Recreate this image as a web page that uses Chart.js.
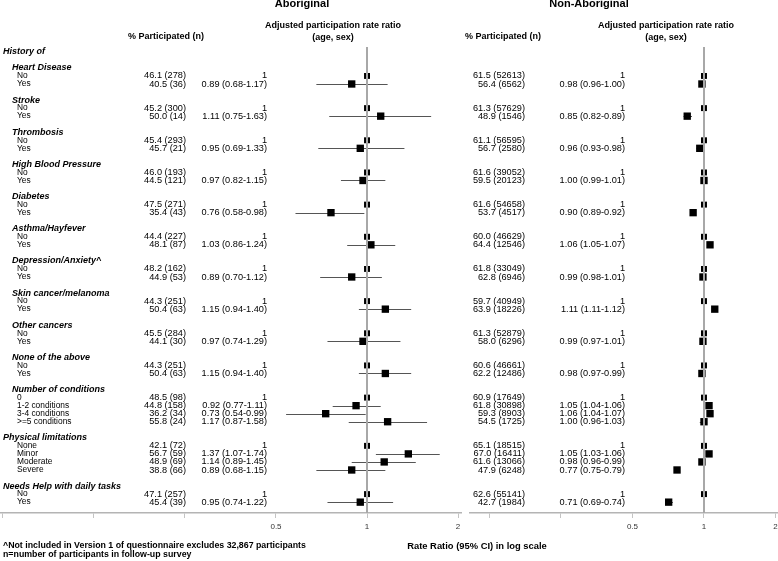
<!DOCTYPE html>
<html>
<head>
<meta charset="utf-8">
<script src="https://cdn.jsdelivr.net/npm/chart.js@4.4.1/dist/chart.umd.min.js"></script>
<style>
  html, body { margin: 0; padding: 0; background: #fff; }
  #wrap { position: relative; width: 778px; height: 561px; }
</style>
</head>
<body>
<div id="wrap"><canvas id="forest" width="778" height="561"></canvas></div>
<script>
// ============================================
// Data
// ============================================

const groupNames = [
    'Heart Disease', 'Stroke', 'Thrombosis', 'High Blood Pressure', 'Diabetes',
    'Asthma/Hayfever', 'Depression/Anxiety^', 'Skin cancer/melanoma', 'Other cancers',
    'None of the above', 'Number of conditions', 'Physical limitations',
    'Needs Help with daily tasks'
];

const groupItems = [
    ['No', 'Yes'], ['No', 'Yes'], ['No', 'Yes'], ['No', 'Yes'], ['No', 'Yes'],
    ['No', 'Yes'], ['No', 'Yes'], ['No', 'Yes'], ['No', 'Yes'], ['No', 'Yes'],
    ['0', '1-2 conditions', '3-4 conditions', '>=5 conditions'],
    ['None', 'Minor', 'Moderate', 'Severe'],
    ['No', 'Yes']
];

// Aboriginal
const abPct = [46.1, 40.5, 45.2, 50.0, 45.4, 45.7, 46.0, 44.5, 47.5, 35.4, 44.4, 48.1, 48.2, 44.9,
    44.3, 50.4, 45.5, 44.1, 44.3, 50.4, 48.5, 44.8, 36.2, 55.8, 42.1, 56.7, 48.9, 38.8, 47.1, 45.4];
const abN = [278, 36, 300, 14, 293, 21, 193, 121, 271, 43, 227, 87, 162, 53,
    251, 63, 284, 30, 251, 63, 98, 158, 34, 24, 72, 59, 69, 66, 257, 39];
const abRR = [1, 0.89, 1, 1.11, 1, 0.95, 1, 0.97, 1, 0.76, 1, 1.03, 1, 0.89,
    1, 1.15, 1, 0.97, 1, 1.15, 1, 0.92, 0.73, 1.17, 1, 1.37, 1.14, 0.89, 1, 0.95];
const abLo = [null, 0.68, null, 0.75, null, 0.69, null, 0.82, null, 0.58, null, 0.86, null, 0.70,
    null, 0.94, null, 0.74, null, 0.94, null, 0.77, 0.54, 0.87, null, 1.07, 0.89, 0.68, null, 0.74];
const abHi = [null, 1.17, null, 1.63, null, 1.33, null, 1.15, null, 0.98, null, 1.24, null, 1.12,
    null, 1.40, null, 1.29, null, 1.40, null, 1.11, 0.99, 1.58, null, 1.74, 1.45, 1.15, null, 1.22];

// Non-Aboriginal
const nonPct = [61.5, 56.4, 61.3, 48.9, 61.1, 56.7, 61.6, 59.5, 61.6, 53.7, 60.0, 64.4, 61.8, 62.8,
    59.7, 63.9, 61.3, 58.0, 60.6, 62.2, 60.9, 61.8, 59.3, 54.5, 65.1, 67.0, 61.6, 47.9, 62.6, 42.7];
const nonN = [52613, 6562, 57629, 1546, 56595, 2580, 39052, 20123, 54658, 4517, 46629, 12546, 33049, 6946,
    40949, 18226, 52879, 6296, 46661, 12486, 17649, 30898, 8903, 1725, 18515, 16411, 13066, 6248, 55141, 1984];
const nonRR = [1, 0.98, 1, 0.85, 1, 0.96, 1, 1.00, 1, 0.90, 1, 1.06, 1, 0.99,
    1, 1.11, 1, 0.99, 1, 0.98, 1, 1.05, 1.06, 1.00, 1, 1.05, 0.98, 0.77, 1, 0.71];
const nonLo = [null, 0.96, null, 0.82, null, 0.93, null, 0.99, null, 0.89, null, 1.05, null, 0.98,
    null, 1.11, null, 0.97, null, 0.97, null, 1.04, 1.04, 0.96, null, 1.03, 0.96, 0.75, null, 0.69];
const nonHi = [null, 1.00, null, 0.89, null, 0.98, null, 1.01, null, 0.92, null, 1.07, null, 1.01,
    null, 1.12, null, 1.01, null, 0.99, null, 1.06, 1.07, 1.03, null, 1.06, 0.99, 0.79, null, 0.74];

const tickValues = [0.0625, 0.125, 0.25, 0.5, 1, 2];
const tickLabels = ['', '', '', '0.5', '1', '2'];

// ============================================
// Row layout (one row per text line)
// ============================================

const rows = [{ text: 'History of', kind: 'top' }, { text: '', kind: 'blank' }];
const itemRow = [];
groupNames.forEach((name, gi) => {
    rows.push({ text: name, kind: gi >= 11 ? 'top' : 'head' });
    groupItems[gi].forEach(label => {
        itemRow.push(rows.length);
        rows.push({ text: label, kind: 'item' });
    });
    if (gi < groupNames.length - 1) rows.push({ text: '', kind: 'blank' });
});

const FONT = '"Liberation Sans", Arial, sans-serif';

const panels = [
    {
        axis: 'xAb', title: 'Aboriginal', titleX: 302,
        pct: abPct, n: abN, rr: abRR, lo: abLo, hi: abHi,
        pctRight: 186, pctHeadX: 166, rrRight: 267, rrHeadX: 333
    },
    {
        axis: 'xNon', title: 'Non-Aboriginal', titleX: 589,
        pct: nonPct, n: nonN, rr: nonRR, lo: nonLo, hi: nonHi,
        pctRight: 525, pctHeadX: 503, rrRight: 625, rrHeadX: 666
    }
];

function markerData(p) {
    return p.rr.map((v, i) => ({ x: v, y: itemRow[i] }));
}

function markerRadius(p) {
    return p.lo.map(v => (v === null ? 4.2 : 5.2));
}

function rrText(p, i) {
    if (p.lo[i] === null) return '1';
    return p.rr[i].toFixed(2) + ' (' + p.lo[i].toFixed(2) + '-' + p.hi[i].toFixed(2) + ')';
}

// ============================================
// Plugins
// ============================================

const ciWhiskers = {
    id: 'ciWhiskers',
    beforeDatasetsDraw(chart) {
        const ctx = chart.ctx;
        const y = chart.scales.y;
        ctx.save();
        ctx.strokeStyle = '#555';
        ctx.lineWidth = 1;
        panels.forEach(p => {
            const x = chart.scales[p.axis];
            p.lo.forEach((lo, i) => {
                if (lo === null) return;
                const py = Math.round(y.getPixelForValue(itemRow[i])) + 0.5;
                ctx.beginPath();
                ctx.moveTo(x.getPixelForValue(lo), py);
                ctx.lineTo(x.getPixelForValue(p.hi[i]), py);
                ctx.stroke();
            });
        });
        ctx.restore();
    },
    afterDatasetsDraw(chart) {
        // null-effect line at rate ratio 1
        const ctx = chart.ctx;
        const area = chart.chartArea;
        ctx.save();
        ctx.strokeStyle = '#a8a8a8';
        ctx.lineWidth = 2;
        panels.forEach(p => {
            const px = Math.round(chart.scales[p.axis].getPixelForValue(1));
            ctx.beginPath();
            ctx.moveTo(px, area.top);
            ctx.lineTo(px, area.bottom);
            ctx.stroke();
        });
        ctx.restore();
    }
};

const textColumns = {
    id: 'textColumns',
    afterDraw(chart) {
        const ctx = chart.ctx;
        const y = chart.scales.y;
        ctx.save();
        ctx.fillStyle = '#000';
        ctx.textBaseline = 'middle';

        // row labels
        rows.forEach((r, i) => {
            if (r.kind === 'blank') return;
            const py = y.getPixelForValue(i);
            ctx.textAlign = 'left';
            if (r.kind === 'item') {
                ctx.font = '8.4px ' + FONT;
                ctx.fillText(r.text, 17, py);
            } else {
                ctx.font = 'italic bold 9px ' + FONT;
                ctx.fillText(r.text, r.kind === 'top' ? 3 : 12, py);
            }
        });

        panels.forEach(p => {
            // panel title and column headers
            ctx.textAlign = 'center';
            ctx.textBaseline = 'alphabetic';
            ctx.font = 'bold 11px ' + FONT;
            ctx.fillText(p.title, p.titleX, 7);
            ctx.font = 'bold 9px ' + FONT;
            ctx.fillText('% Participated (n)', p.pctHeadX, 39);
            ctx.fillText('Adjusted participation rate ratio', p.rrHeadX, 28);
            ctx.fillText('(age, sex)', p.rrHeadX, 39.5);

            // values
            ctx.textBaseline = 'middle';
            ctx.textAlign = 'right';
            ctx.font = '9.2px ' + FONT;
            p.pct.forEach((v, i) => {
                const py = y.getPixelForValue(itemRow[i]);
                ctx.fillText(v.toFixed(1) + ' (' + p.n[i] + ')', p.pctRight, py);
                ctx.fillText(rrText(p, i), p.rrRight, py);
            });
        });

        // footnotes and axis caption
        ctx.textAlign = 'left';
        ctx.font = 'bold 8.8px ' + FONT;
        ctx.fillText('^Not included in Version 1 of questionnaire excludes 32,867 participants', 3, 546);
        ctx.fillText('n=number of participants in follow-up survey', 3, 555);
        ctx.font = 'bold 9.4px ' + FONT;
        ctx.textAlign = 'center';
        ctx.fillText('Rate Ratio (95% CI) in log scale', 477, 546);
        ctx.restore();
    }
};

// ============================================
// Chart
// ============================================

function fitAxis(scale) {
    scale.paddingLeft = 0;
    scale.paddingRight = 0;
    scale.height = 48;
}

function logAxis(min, max, weight) {
    return {
        type: 'logarithmic',
        position: 'bottom',
        stack: 'rr',
        stackWeight: weight,
        min: min,
        max: max,
        bounds: 'data',
        afterBuildTicks: scale => {
            scale.ticks = tickValues
                .filter(v => v >= scale.min && v <= scale.max)
                .map(v => ({ value: v }));
        },
        afterFit: fitAxis,
        ticks: {
            autoSkip: false,
            maxRotation: 0,
            padding: 4,
            color: '#333',
            font: { family: FONT, size: 8 },
            callback: value => tickLabels[tickValues.indexOf(value)] || ''
        },
        grid: { drawOnChartArea: false, tickLength: 5, color: '#c4c4c4' },
        border: { color: '#b4b4b4', width: 1.5 }
    };
}

new Chart(document.getElementById('forest'), {
    type: 'scatter',
    data: {
        datasets: panels.map(p => ({
            label: p.title,
            xAxisID: p.axis,
            data: markerData(p),
            pointStyle: 'rect',
            pointRadius: markerRadius(p),
            pointBorderWidth: 0,
            backgroundColor: '#000'
        }))
    },
    options: {
        responsive: false,
        animation: false,
        events: [],
        layout: { autoPadding: false, padding: { top: 47, left: 0, right: 0, bottom: 0 } },
        scales: {
            xAb: logAxis(0.0611, 2.046, 461),
            // empty spacer between the two panel axes
            xGap: {
                type: 'linear', position: 'bottom', stack: 'rr', stackWeight: 9,
                afterFit: fitAxis,
                ticks: { display: false },
                grid: { display: false },
                border: { display: false }
            },
            xNon: logAxis(0.1035, 2.049, 308),
            y: { type: 'linear', reverse: true, min: -0.6, max: 57.35, display: false }
        },
        plugins: {
            legend: { display: false },
            tooltip: { enabled: false }
        }
    },
    plugins: [ciWhiskers, textColumns]
});
</script>
</body>
</html>
